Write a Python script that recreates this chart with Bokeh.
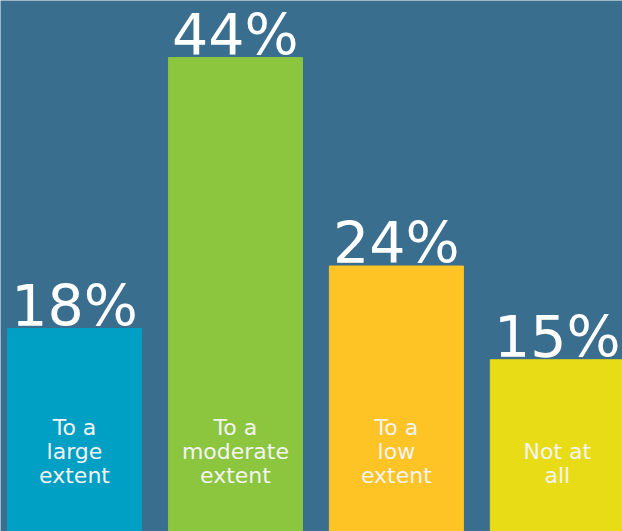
import numpy as np
from bokeh.plotting import figure
from bokeh.models import ColumnDataSource, Range1d
from bokeh.core.properties import value
from bokeh.embed import file_html
from bokeh.resources import INLINE

categories = ["To a\nlarge\nextent", "To a\nmoderate\nextent", "To a\nlow\nextent", "Not at\nall"]
values = [18, 44, 24, 15]
colors = ["#009fc4", "#8cc63f", "#fec324", "#e8dc17"]
value_labels = [f"{v}%" for v in values]

BG = "#3a6e8f"

src = ColumnDataSource(dict(
    x=np.arange(len(categories)),
    top=values,
    color=colors,
    cat=categories,
    lab=value_labels,
))

p = figure(width=622, height=531, output_backend="svg", toolbar_location=None,
           x_range=Range1d(-0.4598, 3.405), y_range=Range1d(-1.48, 49.48),
           min_border=0, background_fill_color=BG, border_fill_color=BG)
p.outline_line_color = None
p.axis.visible = False
p.grid.visible = False

p.vbar(x="x", top="top", bottom=-5, width=0.8326, color="color", source=src)

p.text(x="x", y="top", text="lab", source=src, text_align="center",
       text_baseline="bottom", y_offset=10, text_color="white",
       text_font=value("DejaVu Sans"), text_font_size="57px")

p.text(x="x", y=2.65, text="cat", source=src, text_align="center",
       text_baseline="bottom", text_color="#f4f4f4", text_line_height=0.96,
       text_font=value("DejaVu Sans"), text_font_size="22px")

open("out.html", "w").write(file_html(p, INLINE))
